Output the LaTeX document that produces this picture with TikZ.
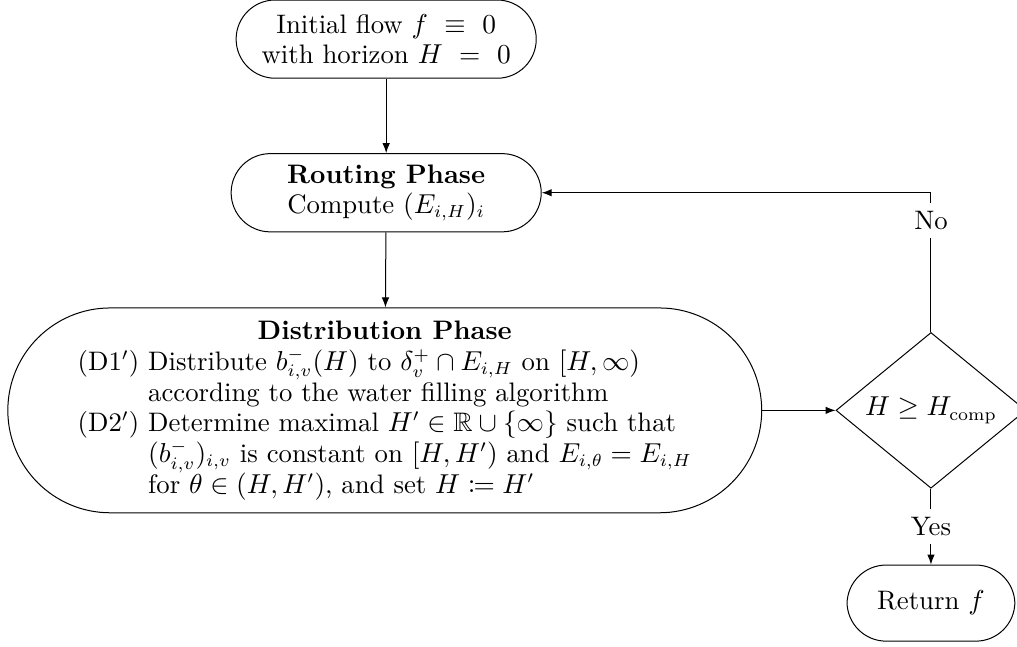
\documentclass[tikz,border=0pt]{standalone}
\usepackage{amsmath,amssymb,mathtools}
\usetikzlibrary{shapes.geometric,arrows.meta}

\begin{document}
\begin{tikzpicture}[thin, >={Latex[length=4pt,width=3pt]},
    every node/.style={font=\fontsize{10.7}{12}\selectfont},
    terminal/.style={draw, rectangle, rounded corners=0.55cm, minimum height=1.1cm, align=center},
    decision/.style={draw, diamond, aspect=1.22, inner sep=0pt, minimum width=2.67cm, minimum height=2.19cm}]
  \useasboundingbox (0, 0) rectangle (14.30, -9.09);

  \node[terminal, minimum width=4.22cm] (init) at (5.43, -0.55)
    {Initial flow $f\ \equiv\ 0$\\ with horizon $H\ =\ 0$};
  \node[terminal, minimum width=4.36cm] (route) at (5.43, -2.71)
    {\textbf{Routing Phase}\\ Compute $(E_{i,H})_i$};

  % Verteilungsphase mit den Schritten (D1') und (D2')
  \node[terminal, rounded corners=1.44cm, minimum width=10.6cm, minimum height=2.88cm] (distr) at (5.41, -5.77)
    {\begin{tabular}{@{}l@{\ }l@{}}
      \multicolumn{2}{c}{\textbf{Distribution Phase}}\\
      (D1$'$) & Distribute $b^-_{i,v}(H)$ to $\delta^+_v \cap E_{i,H}$ on $[H,\infty)$\\
              & according to the water filling algorithm\\
      (D2$'$) & Determine maximal $H' \in \mathbb{R} \cup \{\infty\}$ such that\\
              & $(b^-_{i,v})_{i,v}$ is constant on $[H,H')$ and $E_{i,\theta} = E_{i,H}$\\
              & for $\theta \in (H,H')$, and set $H \coloneqq H'$
    \end{tabular}};

  \node[decision] (check) at (13.09, -5.77) {$H \geq H_{\mathrm{comp}}$};
  \node[terminal, minimum width=2.36cm, minimum height=1.07cm] (ret) at (13.09, -8.48) {Return $f$};

  \draw[->] (init) -- (route);
  \draw[->] (route) -- (distr);
  \draw[->] (distr) -- (check);
  % Schleife zurueck zur Routingphase
  \draw[->] (check.north) |- node[pos=0.4, fill=white] {No} (route.east);
  \draw[->] (check.south) -- node[fill=white] {Yes} (ret);
\end{tikzpicture}
\end{document}
